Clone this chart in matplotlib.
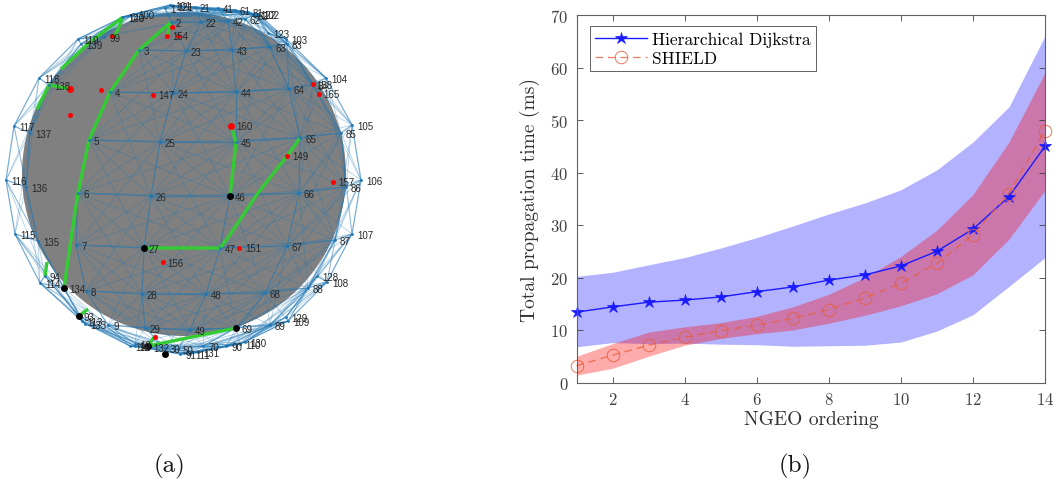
import matplotlib
matplotlib.use('Agg')
import matplotlib.pyplot as plt
from matplotlib.collections import LineCollection
from matplotlib.patches import Circle

# (a) satellite positions, image pixels, plane by plane
plane1 = {1: (165, 9), 2: (171, 23), 3: (139, 51), 4: (110, 93), 5: (89, 141), 6: (78, 194),
          7: (76, 246), 8: (86, 292), 9: (108, 326), 10: (135, 345)}
plane2 = {21: (195, 8), 22: (201, 23), 23: (186, 52), 24: (173, 94), 25: (160, 143), 26: (151, 197),
          27: (144, 249), 28: (142, 295), 29: (145, 329), 30: (165, 349)}
plane3 = {41: (218, 9), 42: (228, 22), 43: (232, 51), 44: (236, 93), 45: (236, 143), 46: (230, 197),
          47: (220, 249), 48: (206, 295), 49: (190, 331), 50: (178, 350)}
plane4 = {61: (235, 11), 62: (245, 20), 63: (270, 48), 64: (289, 90), 65: (300, 139), 66: (299, 194),
          67: (287, 247), 68: (265, 294), 69: (236, 329), 70: (203, 347)}
plane5 = {81: (248, 13), 82: (253, 16), 83: (287, 45), 84: (313, 86), 85: (341, 134), 86: (346, 188),
          87: (335, 241), 88: (308, 289), 89: (270, 326), 90: (226, 347), 91: (180, 355), 92: (135, 347),
          93: (79, 317), 94: (45, 277), 99: (104, 38), 100: (133, 15)}
plane6 = {101: (170, 6), 102: (258, 15), 103: (286, 40), 104: (326, 79), 105: (352, 126), 106: (361, 181),
          107: (352, 235), 108: (327, 283), 109: (288, 322), 110: (240, 345), 111: (190, 355), 112: (130, 347),
          113: (82, 322), 114: (40, 284), 115: (15, 235), 116: (6, 181), 117: (14, 127), 118: (39, 79),
          119: (78, 40), 120: (123, 18)}
plane7 = {121: (172, 7), 122: (255, 15), 123: (268, 34), 128: (317, 277), 129: (286, 318), 130: (245, 343),
          131: (198, 353), 132: (148, 348), 133: (85, 325), 134: (64, 289), 135: (38, 242), 136: (26, 188),
          137: (30, 134), 138: (49, 86), 139: (81, 45), 140: (123, 18)}
planes = [plane1, plane2, plane3, plane4, plane5, plane6, plane7]

black_nodes = [(144, 249), (230, 197), (236, 329), (64, 289), (79, 317), (148, 347), (165, 355)]
red_x = [101, 70, 153, 167, 178, 172, 112, 163, 239, 287, 333, 319, 313, 155]
red_y = [91, 116, 96, 37, 37, 28, 37, 263, 249, 157, 183, 95, 85, 338]
big_red_x = [70, 231]
big_red_y = [90, 127]
user_labels = [('160', 236, 127), ('149', 292, 157), ('157', 338, 183), ('151', 245, 249), ('156', 167, 264),
               ('165', 323, 95), ('158', 316, 86), ('154', 172, 37), ('147', 158, 96)]

green_paths = [
    [(171, 23), (139, 51), (110, 93), (89, 141), (78, 194), (71, 240), (64, 289)],
    [(171, 23), (167, 37)],
    [(230, 197), (236, 143), (231, 127)],
    [(300, 139), (287, 157), (258, 194), (227, 240), (220, 249), (144, 249)],
    [(236, 329), (148, 347), (155, 337)],
    [(123, 18), (115, 37)],
    [(123, 18), (90, 43), (61, 70)],
    [(70, 90), (49, 86), (37, 110)],
    [(79, 317), (88, 310)],
    [(45, 277), (47, 263)],
]

# (b) values per NGEO ordering
ngeo = list(range(1, 15))
dijkstra_mean = [13.4, 14.4, 15.3, 15.7, 16.3, 17.3, 18.2, 19.5, 20.5, 22.2, 25.0, 29.2, 35.4, 45.0]
dijkstra_upper = [20.2, 21.0, 22.4, 23.8, 25.6, 27.6, 29.8, 32.1, 34.2, 36.7, 40.5, 45.8, 52.5, 66.0]
dijkstra_lower = [6.8, 7.6, 7.4, 7.5, 7.3, 7.2, 6.9, 7.0, 7.1, 7.7, 9.8, 12.9, 18.3, 23.8]
shield_mean = [3.2, 5.2, 7.1, 8.6, 9.9, 10.9, 12.2, 13.9, 16.1, 18.9, 22.7, 28.1, 36.0, 48.0]
shield_upper = [5.0, 7.4, 9.6, 10.6, 11.4, 12.6, 14.4, 16.8, 20.0, 24.0, 29.0, 35.8, 45.8, 59.0]
shield_lower = [1.4, 2.7, 5.0, 7.1, 8.4, 9.3, 10.0, 11.3, 12.8, 14.6, 16.9, 20.5, 27.3, 36.6]

W, H = 1060, 485
plt.rcParams['font.family'] = 'cmr10'
plt.rcParams['axes.formatter.use_mathtext'] = True
plt.rcParams['axes.unicode_minus'] = False
fig = plt.figure(figsize=(W / 100, H / 100), dpi=100)

# left panel is drawn straight in image pixels
ax = fig.add_axes([0, 0, 1, 1])
ax.set_xlim(0, W)
ax.set_ylim(H, 0)
ax.axis('off')

ax.add_patch(Circle((184, 175), 162, fc='#808080', ec='none', zorder=1))

# links: ring inside the plane, then to neighbouring planes
grid_links, cross_links = [], []
for p, plane in enumerate(planes):
    for n, xy in plane.items():
        i = (n - 1) % 20
        if (n + 1 if i < 19 else n - 19) in plane:
            grid_links.append([xy, plane[n + 1 if i < 19 else n - 19]])
        for dp in (1, 2):
            if p + dp >= len(planes):
                continue
            for di in (-2, -1, 0, 1, 2):
                m = (p + dp) * 20 + (i + di) % 20 + 1
                if m in planes[p + dp]:
                    if dp == 1 and di == 0:
                        grid_links.append([xy, planes[p + dp][m]])
                    elif abs(di) + dp <= 3:
                        cross_links.append([xy, planes[p + dp][m]])

ax.add_collection(LineCollection(cross_links, colors='#1f77b4', linewidths=0.6, alpha=0.35, zorder=2))
ax.add_collection(LineCollection(grid_links, colors='#1f77b4', linewidths=0.9, alpha=0.6, zorder=2))

for path in green_paths:
    ax.plot([q[0] for q in path], [q[1] for q in path], color='#33cc33', lw=2.4, zorder=3,
            solid_capstyle='butt')

for plane in planes:
    for n, xy in plane.items():
        ax.plot(xy[0], xy[1], 'o', color='#1f77b4', ms=2, mew=0, zorder=4)
        ax.text(xy[0] + 5, xy[1] + 1, str(n), fontsize=7, family='Liberation Sans', color='#262626',
                va='center', ha='left', zorder=6)

ax.plot(red_x, red_y, 'o', color='#ff0000', ms=3.6, mew=0, zorder=5)
ax.plot(big_red_x, big_red_y, 'o', color='#ff0000', ms=5, mew=0, zorder=5)
ax.plot([q[0] for q in black_nodes], [q[1] for q in black_nodes], 'o', color='black', ms=5, mew=0, zorder=5)
for label, lx, ly in user_labels:
    ax.text(lx, ly, label, fontsize=7, family='Liberation Sans', color='#262626', va='center', ha='left', zorder=6)

ax.text(169, 466, '(a)', fontsize=18, ha='center', va='center', color='#111111')
ax.text(795, 466, '(b)', fontsize=18, ha='center', va='center', color='#111111')

# right panel
left, right, top, bottom = 576.5, 1045, 16, 383.5
ax2 = fig.add_axes([left / W, 1 - bottom / H, (right - left) / W, (bottom - top) / H])
ax2.patch.set_alpha(0)
ax2.fill_between(ngeo, dijkstra_lower, dijkstra_upper, color='blue', alpha=0.3, lw=0)
ax2.fill_between(ngeo, shield_lower, shield_upper, color='red', alpha=0.33, lw=0)
ax2.plot(ngeo, dijkstra_mean, '-*', color='#1a1aff', lw=1, ms=9, mew=0.5, clip_on=False,
         label='Hierarchical Dijkstra')
ax2.plot(ngeo, shield_mean, '--o', color='#e8603c', lw=0.9, ms=9, mfc='none', mew=0.7, alpha=0.85, clip_on=False,
         dashes=(6, 4), label='SHIELD')

ax2.set_xlim(1, 14)
ax2.set_ylim(0, 70)
ax2.set_xticks(range(2, 15, 2))
ax2.set_yticks(range(0, 71, 10))
ax2.tick_params(direction='in', top=True, right=True, length=4, width=0.6, color='#404040',
                labelsize=12, labelcolor='#404040', pad=6)
for s in ax2.spines.values():
    s.set_color('#606060')
    s.set_linewidth(0.8)
ax2.set_xlabel('NGEO ordering', fontsize=14, color='#303030', labelpad=2)
ax2.set_ylabel('Total propagation time (ms)', fontsize=14, color='#303030', labelpad=7)

leg = ax2.legend(loc='upper left', bbox_to_anchor=(0.0285, 0.969), borderaxespad=0, fontsize=12.5, fancybox=False,
                 framealpha=1, edgecolor='#606060', handlelength=3, handletextpad=0.3, labelspacing=0.2,
                 borderpad=0.3)
leg.get_frame().set_linewidth(0.7)

fig.savefig('out.png', dpi=100)
